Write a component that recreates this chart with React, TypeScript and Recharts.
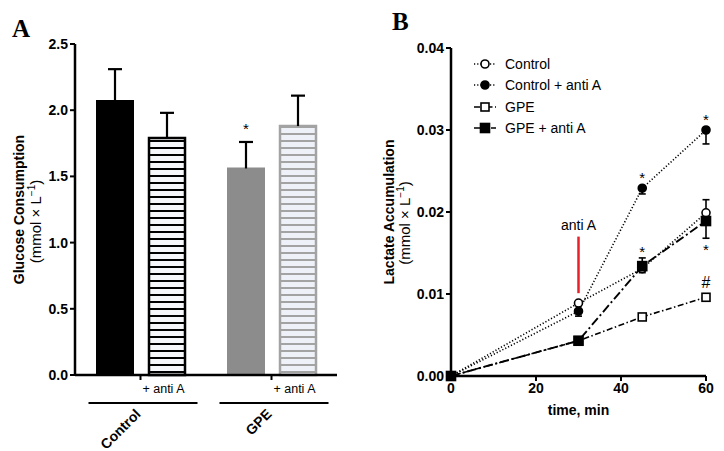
import {
  BarChart,
  Bar,
  Cell,
  LineChart,
  Line,
  XAxis,
  YAxis,
  ErrorBar,
  LabelList,
  Legend,
  ReferenceLine,
} from "recharts";

// Panel A: glucose consumption
const groups = ["Control", "GPE"];
const plainMeans = [2.07, 1.56];
const plainErrors = [0.24, 0.2];
const plainMarks = ["", "*"];
const antiMeans = [1.79, 1.88];
const antiErrors = [0.19, 0.23];
const antiLabel = "+ anti A";
const glucoseTicks = [0, 0.5, 1, 1.5, 2, 2.5];

// Panel B: lactate accumulation
const times = [0, 30, 45, 60];
const control = [0, 0.0089, 0.0131, 0.0199];
const controlErr = [null, null, [0.0005, 0], [0, 0.0016]];
const controlAnti = [0, 0.0079, 0.0229, 0.03];
const controlAntiErr = [null, [0.0006, 0], [0.0007, 0], [0.0017, 0]];
const controlAntiMarks = ["", "", "*", "*"];
const gpe = [0, 0.0043, 0.0072, 0.0096];
const gpeMarks = ["", "", "", "#"];
const gpeAnti = [0, 0.0043, 0.0134, 0.0189];
const gpeAntiErr = [null, null, [0, 0.001], [0.0021, 0]];
const gpeAntiTopMarks = ["", "", "*", ""];
const gpeAntiBottomMarks = ["", "", "", "*"];
const lactateTicks = [0, 0.01, 0.02, 0.03, 0.04];
const timeTicks = [0, 20, 40, 60];
const antiATime = 30;
const antiALow = 0.0101;
const antiAHigh = 0.017;

const FONT = "'Liberation Sans', Arial, sans-serif";
const SERIF = "'Liberation Serif', 'Times New Roman', serif";

const barData = groups.map((g, i) => ({
  group: g,
  plain: plainMeans[i],
  anti: antiMeans[i],
}));

const lineData = times.map((t, i) => ({
  time: t,
  control: control[i],
  controlErr: controlErr[i],
  controlAnti: controlAnti[i],
  controlAntiErr: controlAntiErr[i],
  controlAntiMark: controlAntiMarks[i],
  gpe: gpe[i],
  gpeMark: gpeMarks[i],
  gpeAnti: gpeAnti[i],
  gpeAntiErr: gpeAntiErr[i],
  gpeAntiTop: gpeAntiTopMarks[i],
  gpeAntiBottom: gpeAntiBottomMarks[i],
}));

const lineStyles = [
  { key: "control", name: "Control", dash: "1.2 2", shape: "circle", filled: false },
  { key: "controlAnti", name: "Control + anti A", dash: "1.2 2", shape: "circle", filled: true },
  { key: "gpe", name: "GPE", dash: "6 2.5 1.5 2.5", shape: "square", filled: false },
  { key: "gpeAnti", name: "GPE + anti A", dash: "9 3 2 3", shape: "square", filled: true },
];

const tickStyle = { fill: "#000", fontSize: 14, fontWeight: 700, fontFamily: FONT };

function Marker({ cx, cy, shape, filled }: any) {
  if (cx == null || cy == null) return null;
  if (shape === "circle") {
    return <circle cx={cx} cy={cy} r={4} fill={filled ? "#000" : "#fff"} stroke="#000" strokeWidth={1.6} />;
  }
  const s = filled ? 9 : 8;
  return (
    <rect x={cx - s / 2} y={cy - s / 2} width={s} height={s} fill={filled ? "#000" : "#fff"} stroke="#000" strokeWidth={1.6} />
  );
}

function barError(means: number[], errors: number[], marks?: string[]) {
  return (props: any) => {
    const vb = props.viewBox ?? props;
    const { x, y, width, height } = vb;
    let i = props.index;
    if (i == null) i = means.indexOf(props.value);
    if (i < 0 || x == null) return null;
    const pxPerUnit = height / means[i];
    const cx = x + width / 2;
    const top = y - errors[i] * pxPerUnit;
    return (
      <g key={`err-${i}`}>
        <line x1={cx} y1={y} x2={cx} y2={top} stroke="#000" strokeWidth={2.2} />
        <line x1={cx - 7} y1={top} x2={cx + 7} y2={top} stroke="#000" strokeWidth={2.2} />
        {marks && marks[i] ? (
          <text x={cx} y={top - 8} textAnchor="middle" fontSize={15} fontFamily={FONT} fill="#000">
            {marks[i]}
          </text>
        ) : null}
      </g>
    );
  };
}

function pointMark(dy: number, size = 15) {
  return (props: any) => {
    const { value } = props;
    if (!value) return null;
    const vb = props.viewBox ?? {};
    const x = vb.x ?? props.x;
    const y = vb.y ?? props.y;
    return (
      <text key={`m-${props.index}`} x={x} y={y + dy} textAnchor="middle" fontSize={size} fontFamily={FONT} fill="#000">
        {value}
      </text>
    );
  };
}

function yTitle(title: string, dx1: number, dx2: number, dy2: number) {
  return (p: any) => {
    const vb = p.viewBox ?? p;
    const cy = vb.y + vb.height / 2;
    const x1 = vb.x + dx1;
    const x2 = vb.x + dx2;
    const y2 = cy + dy2;
    return (
      <g>
        <text transform={`rotate(-90, ${x1}, ${cy})`} x={x1} y={cy} textAnchor="middle" fontSize={14} fontWeight={700} fontFamily={FONT} fill="#000">
          {title}
        </text>
        <text transform={`rotate(-90, ${x2}, ${y2})`} x={x2} y={y2} textAnchor="middle" fontSize={15} fontFamily={FONT} fill="#000">
          (mmol × L
          <tspan dy={-6} fontSize={10}>−1</tspan>
          <tspan dy={6}>)</tspan>
        </text>
      </g>
    );
  };
}

const GroupTick = (props: any) => {
  const { x, y, payload } = props;
  return (
    <g>
      <text x={x + 23} y={y + 11} textAnchor="middle" fontSize={12.5} fontFamily={FONT} fill="#000">
        {antiLabel}
      </text>
      <line x1={x - 52} x2={x + 57} y1={y + 21} y2={y + 21} stroke="#000" strokeWidth={2} />
      <text
        transform={`rotate(-45, ${x + 1}, ${y + 33})`}
        x={x + 1}
        y={y + 33}
        textAnchor="end"
        fontSize={14}
        fontWeight={700}
        fontFamily={FONT}
        fill="#000"
      >
        {payload.value}
      </text>
    </g>
  );
};

const renderLegend = (props: any) => (
  <div style={{ fontFamily: FONT, fontSize: 14, color: "#000" }}>
    {(props.payload ?? []).map((entry: any) => {
      const s = lineStyles.find((l) => l.key === entry.dataKey);
      if (!s) return null;
      return (
        <div key={s.key} style={{ display: "flex", alignItems: "center", height: 21.5 }}>
          <svg width={22} height={12} style={{ marginRight: 9 }}>
            <line x1={0} x2={22} y1={6} y2={6} stroke="#000" strokeWidth={1.6} strokeDasharray={s.dash} />
            <Marker cx={11} cy={6} shape={s.shape} filled={s.filled} />
          </svg>
          <span>{entry.value}</span>
        </div>
      );
    })}
  </div>
);

function GlucosePanel() {
  return (
    <BarChart width={362} height={451} data={barData} margin={{ top: 44, right: 25, bottom: 6, left: 30 }} barSize={36} barGap={16}>
      <defs>
        <pattern id="stripesBlack" patternUnits="userSpaceOnUse" width={10} height={7}>
          <rect x={0} y={0} width={10} height={7} fill="#f6f7fa" />
          <rect x={0} y={0} width={10} height={2} fill="#000" />
        </pattern>
        <pattern id="stripesGray" patternUnits="userSpaceOnUse" width={10} height={7}>
          <rect x={0} y={0} width={10} height={7} fill="#eef2f8" />
          <rect x={0} y={0} width={10} height={2} fill="#a3a3a3" />
        </pattern>
      </defs>
      <XAxis
        dataKey="group"
        height={70}
        axisLine={{ stroke: "#000", strokeWidth: 2.5 }}
        tickLine={{ stroke: "#000", strokeWidth: 2 }}
        tickSize={5}
        tick={<GroupTick />}
        interval={0}
      />
      <YAxis
        type="number"
        domain={[0, 2.5]}
        ticks={glucoseTicks}
        tickFormatter={(v: number) => v.toFixed(1)}
        width={45}
        axisLine={{ stroke: "#000", strokeWidth: 2.5 }}
        tickLine={{ stroke: "#000", strokeWidth: 2 }}
        tickSize={5}
        tick={tickStyle}
        label={yTitle("Glucose Consumption", -6, 11, 12)}
      />
      <Bar dataKey="plain" isAnimationActive={false} strokeWidth={2}>
        {barData.map((d, i) => (
          <Cell key={d.group} fill={i === 0 ? "#000" : "#8c8c8c"} stroke={i === 0 ? "#000" : "#8c8c8c"} />
        ))}
        <LabelList dataKey="plain" content={barError(plainMeans, plainErrors, plainMarks)} />
      </Bar>
      <Bar dataKey="anti" isAnimationActive={false} strokeWidth={2.5}>
        {barData.map((d, i) => (
          <Cell
            key={d.group}
            fill={i === 0 ? "url(#stripesBlack)" : "url(#stripesGray)"}
            stroke={i === 0 ? "#000" : "#a3a3a3"}
          />
        ))}
        <LabelList dataKey="anti" content={barError(antiMeans, antiErrors)} />
      </Bar>
    </BarChart>
  );
}

function LactatePanel() {
  return (
    <LineChart width={362} height={451} data={lineData} margin={{ top: 48, right: 18, bottom: 45, left: 44 }}>
      <XAxis
        dataKey="time"
        type="number"
        domain={[0, 60]}
        ticks={timeTicks}
        height={30}
        axisLine={{ stroke: "#000", strokeWidth: 2.5 }}
        tickLine={{ stroke: "#000", strokeWidth: 2 }}
        tickSize={5}
        tick={tickStyle}
        label={(p: any) => {
          const vb = p.viewBox ?? p;
          return (
            <text x={vb.x + vb.width / 2} y={vb.y + 39} textAnchor="middle" fontSize={14} fontWeight={700} fontFamily={FONT} fill="#000">
              time, min
            </text>
          );
        }}
      />
      <YAxis
        type="number"
        domain={[0, 0.04]}
        ticks={lactateTicks}
        tickFormatter={(v: number) => v.toFixed(2)}
        width={45}
        axisLine={{ stroke: "#000", strokeWidth: 2.5 }}
        tickLine={{ stroke: "#000", strokeWidth: 2 }}
        tickSize={5}
        tick={tickStyle}
        label={yTitle("Lactate Accumulation", -12, 4, 11)}
      />
      <Legend
        layout="vertical"
        align="center"
        verticalAlign="middle"
        content={renderLegend}
        wrapperStyle={{ left: 112, top: 53, width: 200 }}
      />
      <ReferenceLine
        segment={[
          { x: antiATime, y: antiALow },
          { x: antiATime, y: antiAHigh },
        ]}
        stroke="#e8202a"
        strokeWidth={2.5}
        label={(p: any) => {
          const vb = p.viewBox ?? p;
          const x = vb.x != null ? vb.x + (vb.width ?? 0) / 2 : vb.x1;
          const y = vb.y != null ? vb.y : Math.min(vb.y1, vb.y2);
          return (
            <text x={x} y={y - 7} textAnchor="middle" fontSize={14} fontFamily={FONT} fill="#000">
              anti A
            </text>
          );
        }}
      />
      {lineStyles.map((s) => (
        <Line
          key={s.key}
          dataKey={s.key}
          name={s.name}
          type="linear"
          stroke="#000"
          strokeWidth={s.key === "gpeAnti" ? 1.9 : 1.6}
          strokeDasharray={s.dash}
          isAnimationActive={false}
          activeDot={false}
          dot={(p: any) => <Marker key={`${s.key}-${p.index}`} cx={p.cx} cy={p.cy} shape={s.shape} filled={s.filled} />}
        >
          {s.key === "control" && <ErrorBar dataKey="controlErr" width={3.5} strokeWidth={1.6} stroke="#000" direction="y" />}
          {s.key === "controlAnti" && <ErrorBar dataKey="controlAntiErr" width={3.5} strokeWidth={1.6} stroke="#000" direction="y" />}
          {s.key === "controlAnti" && <LabelList dataKey="controlAntiMark" content={pointMark(-5)} />}
          {s.key === "gpe" && <LabelList dataKey="gpeMark" content={pointMark(-9, 16)} />}
          {s.key === "gpeAnti" && <ErrorBar dataKey="gpeAntiErr" width={3.5} strokeWidth={1.6} stroke="#000" direction="y" />}
          {s.key === "gpeAnti" && <LabelList dataKey="gpeAntiTop" content={pointMark(-9)} />}
          {s.key === "gpeAnti" && <LabelList dataKey="gpeAntiBottom" content={pointMark(34)} />}
        </Line>
      ))}
    </LineChart>
  );
}

export default function App() {
  return (
    <div style={{ position: "absolute", left: 0, top: 0, width: 724, height: 451, background: "#fff", fontFamily: FONT }}>
      <div style={{ position: "absolute", left: 0, top: 0 }}>
        <GlucosePanel />
      </div>
      <div style={{ position: "absolute", left: 362, top: 0 }}>
        <LactatePanel />
      </div>
      <div style={{ position: "absolute", left: 12, top: 15.5, fontFamily: SERIF, fontWeight: 700, fontSize: 25, lineHeight: "25px" }}>
        A
      </div>
      <div style={{ position: "absolute", left: 392, top: 8.5, fontFamily: SERIF, fontWeight: 700, fontSize: 25, lineHeight: "25px" }}>
        B
      </div>
    </div>
  );
}
